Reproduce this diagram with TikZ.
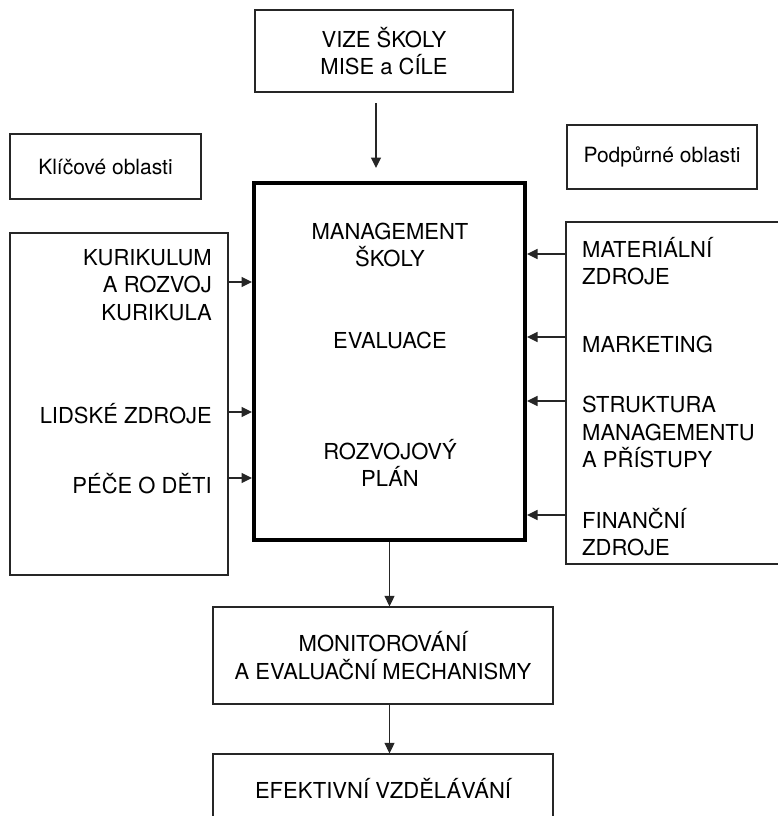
\documentclass[tikz,border=0pt]{standalone}
\usepackage{fontspec}
\setmainfont{TeX Gyre Heros}
\usetikzlibrary{arrows.meta,calc}

\tikzset{
  thinbox/.style={draw=black!85, line width=1.3pt, inner sep=0pt},
  mainbox/.style={draw=black, line width=4pt, inner sep=0pt},
  caps/.style={font=\fontsize{22}{27.5}\selectfont, inner sep=0pt},
  small/.style={font=\fontsize{21}{26}\selectfont, inner sep=0pt},
  arr/.style={draw=black!85, line width=1.3pt,
    -{Triangle[length=10.5pt,width=10pt]}},
}

\begin{document}
\begin{tikzpicture}[x=1pt,y=-1pt]
  \useasboundingbox (0,0) rectangle (777,816);
  \fill[white] (0,0) rectangle (777,816);

  % vision box on top
  \node[thinbox, caps, align=center, minimum width=258, minimum height=82]
    (vize) at (384,51) {VIZE ŠKOLY\\MISE a CÍLE};

  % legend boxes
  \node[thinbox, small, minimum width=191, minimum height=65]
    (klic) at (105.5,166.5) {Klíčové oblasti};
  \node[thinbox, small, minimum width=190, minimum height=64]
    (podp) at (662,157) {Podpůrné oblasti};

  % frames holding the key and support areas
  \node[thinbox, minimum width=218, minimum height=342] (left) at (119,404) {};
  \node[thinbox, minimum width=240, minimum height=342] (right) at (686,393) {};

  % central management frame
  \node[mainbox, minimum width=271, minimum height=357] (main) at (389.5,361.5) {};

  % texts inside the central frame
  \node[caps, align=center] (mgmt) at (390,245) {MANAGEMENT\\ŠKOLY};
  \node[caps] (eval) at (390,340) {EVALUACE};
  \node[caps, align=center] (rozv) at (390,463) {ROZVOJOVÝ\\PLÁN};

  % key areas
  \node[caps, align=right, anchor=east] (kur) at (212,285) {KURIKULUM\\A ROZVOJ\\KURIKULA};
  \node[caps, anchor=east] (lid) at (212,414) {LIDSKÉ ZDROJE};
  \node[caps, anchor=east] (pec) at (212,484) {PÉČE O DĚTI};

  % support areas
  \node[caps, align=left, anchor=west] (mat) at (582,261) {MATERIÁLNÍ\\ZDROJE};
  \node[caps, anchor=west] (mark) at (582,344) {MARKETING};
  \node[caps, align=left, anchor=west] (str) at (582,432) {STRUKTURA\\MANAGEMENTU\\A PŘÍSTUPY};
  \node[caps, align=left, anchor=west] (fin) at (582,532) {FINANČNÍ\\ZDROJE};

  % monitoring and outcome
  \node[thinbox, caps, align=center, minimum width=340, minimum height=97]
    (mon) at (383,655.5) {MONITOROVÁNÍ\\A EVALUAČNÍ MECHANISMY};
  \node[thinbox, caps, minimum width=340, minimum height=68]
    (efe) at (383,788) {EFEKTIVNÍ VZDĚLÁVÁNÍ};

  % connectors
  \coordinate (vizeOut) at (376,103);
  \coordinate (mainIn) at (376,168);
  \draw[arr] (vizeOut) -- (mainIn);

  \draw[arr] (left.east |- 0,282) -- (main.west |- 0,282);
  \draw[arr] (left.east |- 0,412) -- (main.west |- 0,412);
  \draw[arr] (left.east |- 0,478) -- (main.west |- 0,478);

  \draw[arr] (right.west |- 0,254) -- (main.east |- 0,254);
  \draw[arr] (right.west |- 0,337) -- (main.east |- 0,337);
  \draw[arr] (right.west |- 0,401) -- (main.east |- 0,401);
  \draw[arr] (right.west |- 0,515) -- (main.east |- 0,515);

  \draw[arr] (main.south) -- (main.south |- mon.north);
  \draw[arr] (mon.south -| main.south) -- (efe.north -| main.south);
\end{tikzpicture}
\end{document}
